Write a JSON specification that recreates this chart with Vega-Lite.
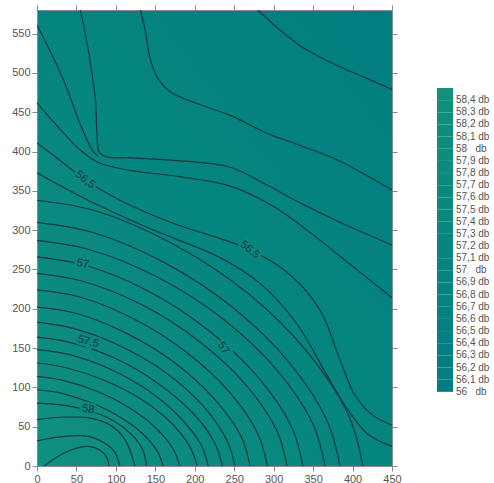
{
"$schema":"https://vega.github.io/schema/vega-lite/v6.json",
"width":355,"height":456,
"autosize":{"type":"none"},
"padding":{"left":37,"top":10,"right":102,"bottom":17},
"background":"white",
"config":{
 "view":{"stroke":null,"fill":{"gradient":"linear","x1":0,"y1":1,"x2":1,"y2":0,"stops":[{"offset":0,"color":"#10907f"},{"offset":0.45,"color":"#06867f"},{"offset":1,"color":"#017d80"}]}},
 "axis":{"title":null,"grid":false,"labelFont":"Liberation Sans","labelFontSize":11,"labelColor":"#555555","domainColor":"#8a8a8a","tickColor":"#8a8a8a","tickSize":5,"labelPadding":2,"labelFlush":false},
 "legend":{"labelFont":"Liberation Sans","labelFontSize":10,"labelColor":"#555555","gradientVerticalMaxLength":316,"gradientLength":316}
},
"datasets":{
"lines":[
{"id":"c","l":56.2,"i":0,"x":280,"y":580},{"id":"c","l":56.2,"i":1,"x":304,"y":558},{"id":"c","l":56.2,"i":2,"x":333,"y":535},{"id":"c","l":56.2,"i":3,"x":375,"y":512},{"id":"c","l":56.2,"i":4,"x":418,"y":493},{"id":"c","l":56.2,"i":5,"x":450,"y":479},
{"id":"b","l":56.3,"i":0,"x":131,"y":580},{"id":"b","l":56.3,"i":1,"x":137,"y":555},{"id":"b","l":56.3,"i":2,"x":143,"y":520},{"id":"b","l":56.3,"i":3,"x":152,"y":495},{"id":"b","l":56.3,"i":4,"x":169,"y":476},{"id":"b","l":56.3,"i":5,"x":203,"y":461},{"id":"b","l":56.3,"i":6,"x":245,"y":446},{"id":"b","l":56.3,"i":7,"x":292,"y":423},{"id":"b","l":56.3,"i":8,"x":333,"y":408},{"id":"b","l":56.3,"i":9,"x":375,"y":392},{"id":"b","l":56.3,"i":10,"x":410,"y":374},{"id":"b","l":56.3,"i":11,"x":450,"y":351},
{"id":"a","l":56.4,"i":0,"x":55,"y":580},{"id":"a","l":56.4,"i":1,"x":65,"y":529},{"id":"a","l":56.4,"i":2,"x":74,"y":466},{"id":"a","l":56.4,"i":3,"x":76,"y":424},{"id":"a","l":56.4,"i":4,"x":79,"y":399},{"id":"a","l":56.4,"i":5,"x":89,"y":393},{"id":"a","l":56.4,"i":6,"x":118,"y":392},{"id":"a","l":56.4,"i":7,"x":169,"y":389},{"id":"a","l":56.4,"i":8,"x":245,"y":380},{"id":"a","l":56.4,"i":9,"x":292,"y":357},{"id":"a","l":56.4,"i":10,"x":333,"y":335},{"id":"a","l":56.4,"i":11,"x":384,"y":310},{"id":"a","l":56.4,"i":12,"x":450,"y":281},
{"id":"aa","l":56.4,"i":0,"x":0,"y":561},{"id":"aa","l":56.4,"i":1,"x":16,"y":529},{"id":"aa","l":56.4,"i":2,"x":36,"y":485},{"id":"aa","l":56.4,"i":3,"x":55,"y":434},{"id":"aa","l":56.4,"i":4,"x":70,"y":402},{"id":"aa","l":56.4,"i":5,"x":77,"y":394},
{"id":"d","l":56.4,"i":0,"x":0,"y":462},{"id":"d","l":56.4,"i":1,"x":26,"y":432},{"id":"d","l":56.4,"i":2,"x":57,"y":400},{"id":"d","l":56.4,"i":3,"x":80,"y":385},{"id":"d","l":56.4,"i":4,"x":118,"y":376},{"id":"d","l":56.4,"i":5,"x":180,"y":368},{"id":"d","l":56.4,"i":6,"x":245,"y":356},{"id":"d","l":56.4,"i":7,"x":300,"y":330},{"id":"d","l":56.4,"i":8,"x":350,"y":294},{"id":"d","l":56.4,"i":9,"x":400,"y":254},{"id":"d","l":56.4,"i":10,"x":450,"y":214},
{"id":"e","l":56.5,"i":0,"x":0,"y":411},{"id":"e","l":56.5,"i":1,"x":29,"y":389},{"id":"e","l":56.5,"i":2,"x":61,"y":364},{"id":"e","l":56.5,"i":3,"x":105,"y":338},{"id":"e","l":56.5,"i":4,"x":169,"y":310},{"id":"e","l":56.5,"i":5,"x":270,"y":275},{"id":"e","l":56.5,"i":6,"x":321,"y":243},{"id":"e","l":56.5,"i":7,"x":359,"y":198},{"id":"e","l":56.5,"i":8,"x":384,"y":135},{"id":"e","l":56.5,"i":9,"x":403,"y":90},{"id":"e","l":56.5,"i":10,"x":425,"y":65},{"id":"e","l":56.5,"i":11,"x":450,"y":52},
{"id":"f","l":56.6,"i":0,"x":0,"y":373},{"id":"f","l":56.6,"i":1,"x":61,"y":340},{"id":"f","l":56.6,"i":2,"x":143,"y":302},{"id":"f","l":56.6,"i":3,"x":232,"y":265},{"id":"f","l":56.6,"i":4,"x":283,"y":232},{"id":"f","l":56.6,"i":5,"x":330,"y":180},{"id":"f","l":56.6,"i":6,"x":365,"y":120},{"id":"f","l":56.6,"i":7,"x":395,"y":70},{"id":"f","l":56.6,"i":8,"x":420,"y":40},{"id":"f","l":56.6,"i":9,"x":450,"y":25},
{"id":"g","l":56.7,"i":0,"x":0,"y":338},{"id":"g","l":56.7,"i":1,"x":76,"y":324},{"id":"g","l":56.7,"i":2,"x":173,"y":282},{"id":"g","l":56.7,"i":3,"x":268,"y":219},{"id":"g","l":56.7,"i":4,"x":345,"y":142},{"id":"g","l":56.7,"i":5,"x":396,"y":62},{"id":"g","l":56.7,"i":6,"x":413,"y":0},
{"id":"h","l":56.8,"i":0,"x":0,"y":310},{"id":"h","l":56.8,"i":1,"x":71,"y":297},{"id":"h","l":56.8,"i":2,"x":161,"y":259},{"id":"h","l":56.8,"i":3,"x":249,"y":201},{"id":"h","l":56.8,"i":4,"x":321,"y":130},{"id":"h","l":56.8,"i":5,"x":368,"y":57},{"id":"h","l":56.8,"i":6,"x":384,"y":0},
{"id":"j","l":56.9,"i":0,"x":0,"y":287},{"id":"j","l":56.9,"i":1,"x":67,"y":275},{"id":"j","l":56.9,"i":2,"x":153,"y":240},{"id":"j","l":56.9,"i":3,"x":237,"y":186},{"id":"j","l":56.9,"i":4,"x":305,"y":121},{"id":"j","l":56.9,"i":5,"x":350,"y":53},{"id":"j","l":56.9,"i":6,"x":365,"y":0},
{"id":"k","l":57.0,"i":0,"x":0,"y":266},{"id":"k","l":57.0,"i":1,"x":62,"y":255},{"id":"k","l":57.0,"i":2,"x":142,"y":222},{"id":"k","l":57.0,"i":3,"x":218,"y":172},{"id":"k","l":57.0,"i":4,"x":281,"y":112},{"id":"k","l":57.0,"i":5,"x":323,"y":49},{"id":"k","l":57.0,"i":6,"x":337,"y":0},
{"id":"m","l":57.1,"i":0,"x":0,"y":245},{"id":"m","l":57.1,"i":1,"x":58,"y":235},{"id":"m","l":57.1,"i":2,"x":133,"y":205},{"id":"m","l":57.1,"i":3,"x":205,"y":159},{"id":"m","l":57.1,"i":4,"x":265,"y":103},{"id":"m","l":57.1,"i":5,"x":304,"y":45},{"id":"m","l":57.1,"i":6,"x":317,"y":0},
{"id":"n","l":57.2,"i":0,"x":0,"y":224},{"id":"n","l":57.2,"i":1,"x":54,"y":215},{"id":"n","l":57.2,"i":2,"x":123,"y":187},{"id":"n","l":57.2,"i":3,"x":189,"y":145},{"id":"n","l":57.2,"i":4,"x":244,"y":94},{"id":"n","l":57.2,"i":5,"x":280,"y":41},{"id":"n","l":57.2,"i":6,"x":292,"y":0},
{"id":"o","l":57.3,"i":0,"x":0,"y":202},{"id":"o","l":57.3,"i":1,"x":50,"y":194},{"id":"o","l":57.3,"i":2,"x":113,"y":169},{"id":"o","l":57.3,"i":3,"x":175,"y":131},{"id":"o","l":57.3,"i":4,"x":225,"y":85},{"id":"o","l":57.3,"i":5,"x":259,"y":37},{"id":"o","l":57.3,"i":6,"x":270,"y":0},
{"id":"p","l":57.4,"i":0,"x":0,"y":183},{"id":"p","l":57.4,"i":1,"x":46,"y":175},{"id":"p","l":57.4,"i":2,"x":105,"y":153},{"id":"p","l":57.4,"i":3,"x":163,"y":119},{"id":"p","l":57.4,"i":4,"x":210,"y":77},{"id":"p","l":57.4,"i":5,"x":240,"y":34},{"id":"p","l":57.4,"i":6,"x":251,"y":0},
{"id":"q","l":57.5,"i":0,"x":0,"y":164},{"id":"q","l":57.5,"i":1,"x":43,"y":157},{"id":"q","l":57.5,"i":2,"x":99,"y":137},{"id":"q","l":57.5,"i":3,"x":152,"y":106},{"id":"q","l":57.5,"i":4,"x":196,"y":69},{"id":"q","l":57.5,"i":5,"x":225,"y":30},{"id":"q","l":57.5,"i":6,"x":235,"y":0},
{"id":"r","l":57.6,"i":0,"x":0,"y":148},{"id":"r","l":57.6,"i":1,"x":40,"y":142},{"id":"r","l":57.6,"i":2,"x":91,"y":124},{"id":"r","l":57.6,"i":3,"x":141,"y":96},{"id":"r","l":57.6,"i":4,"x":181,"y":62},{"id":"r","l":57.6,"i":5,"x":208,"y":27},{"id":"r","l":57.6,"i":6,"x":217,"y":0},
{"id":"s","l":57.7,"i":0,"x":0,"y":131},{"id":"s","l":57.7,"i":1,"x":37,"y":125},{"id":"s","l":57.7,"i":2,"x":85,"y":109},{"id":"s","l":57.7,"i":3,"x":132,"y":85},{"id":"s","l":57.7,"i":4,"x":170,"y":55},{"id":"s","l":57.7,"i":5,"x":194,"y":24},{"id":"s","l":57.7,"i":6,"x":203,"y":0},
{"id":"t","l":57.8,"i":0,"x":0,"y":114},{"id":"t","l":57.8,"i":1,"x":33,"y":109},{"id":"t","l":57.8,"i":2,"x":76,"y":95},{"id":"t","l":57.8,"i":3,"x":117,"y":74},{"id":"t","l":57.8,"i":4,"x":151,"y":48},{"id":"t","l":57.8,"i":5,"x":173,"y":21},{"id":"t","l":57.8,"i":6,"x":181,"y":0},
{"id":"u","l":57.9,"i":0,"x":0,"y":97},{"id":"u","l":57.9,"i":1,"x":29,"y":93},{"id":"u","l":57.9,"i":2,"x":67,"y":81},{"id":"u","l":57.9,"i":3,"x":104,"y":63},{"id":"u","l":57.9,"i":4,"x":134,"y":41},{"id":"u","l":57.9,"i":5,"x":153,"y":18},{"id":"u","l":57.9,"i":6,"x":160,"y":0},
{"id":"v","l":58.0,"i":0,"x":0,"y":80},{"id":"v","l":58.0,"i":1,"x":36,"y":77},{"id":"v","l":58.0,"i":2,"x":70,"y":69},{"id":"v","l":58.0,"i":3,"x":98,"y":57},{"id":"v","l":58.0,"i":4,"x":120,"y":40},{"id":"v","l":58.0,"i":5,"x":134,"y":21},{"id":"v","l":58.0,"i":6,"x":139,"y":0},
{"id":"w","l":58.1,"i":0,"x":0,"y":59},{"id":"w","l":58.1,"i":1,"x":29,"y":62},{"id":"w","l":58.1,"i":2,"x":67,"y":61},{"id":"w","l":58.1,"i":3,"x":93,"y":52},{"id":"w","l":58.1,"i":4,"x":112,"y":33},{"id":"w","l":58.1,"i":5,"x":124,"y":0},
{"id":"y","l":58.2,"i":0,"x":0,"y":32},{"id":"y","l":58.2,"i":1,"x":29,"y":37},{"id":"y","l":58.2,"i":2,"x":63,"y":38},{"id":"y","l":58.2,"i":3,"x":86,"y":29},{"id":"y","l":58.2,"i":4,"x":99,"y":17},{"id":"y","l":58.2,"i":5,"x":105,"y":0},
{"id":"z","l":58.3,"i":0,"x":9,"y":0},{"id":"z","l":58.3,"i":1,"x":23,"y":10},{"id":"z","l":58.3,"i":2,"x":42,"y":20},{"id":"z","l":58.3,"i":3,"x":63,"y":25},{"id":"z","l":58.3,"i":4,"x":80,"y":20},{"id":"z","l":58.3,"i":5,"x":89,"y":10},{"id":"z","l":58.3,"i":6,"x":91,"y":0}
],
"labels":[
{"t":"56,5","x":61,"y":364,"a":38},
{"t":"56,5","x":270,"y":275,"a":40},
{"t":"57","x":58,"y":257,"a":10},
{"t":"57","x":236,"y":150,"a":58},
{"t":"57,5","x":65,"y":158,"a":15},
{"t":"58","x":65,"y":72,"a":10}
]
},
"layer":[
{"data":{"name":"lines"},
 "mark":{"type":"line","interpolate":"catmull-rom","stroke":"#123a3d","strokeWidth":1.2,"clip":true},
 "encoding":{
  "x":{"field":"x","type":"quantitative","scale":{"domain":[0,450],"nice":false,"zero":false},"axis":{"values":[0,50,100,150,200,250,300,350,400,450]}},
  "y":{"field":"y","type":"quantitative","scale":{"domain":[0,580],"nice":false,"zero":false},"axis":{"values":[0,50,100,150,200,250,300,350,400,450,500,550]}},
  "detail":{"field":"id"},
  "order":{"field":"i","type":"quantitative"}
 }},
{"data":{"name":"lines"},
 "mark":{"type":"point","size":0,"filled":true,"strokeWidth":0},
 "encoding":{
  "x":{"field":"x","type":"quantitative","axis":{"orient":"top","labels":false,"values":[0,50,100,150,200,250,300,350,400,450]}},
  "y":{"field":"y","type":"quantitative","axis":{"orient":"right","labels":false,"values":[0,50,100,150,200,250,300,350,400,450,500,550]}},
  "fill":{"field":"l","type":"quantitative",
   "scale":{"type":"threshold","domain":[56,56.1,56.2,56.3,56.4,56.5,56.6,56.7,56.8,56.9,57,57.1,57.2,57.3,57.4,57.5,57.6,57.7,57.8,57.9,58,58.1,58.2,58.3,58.4],"range":["transparent","#017c84","#027d84","#027e83","#037e83","#047f82","#048082","#058182","#068281","#068381","#078380","#088480","#08857f","#09867f","#0a877f","#0a887e","#0b887e","#0c897d","#0c8a7d","#0d8b7c","#0e8c7c","#0e8d7c","#0f8d7b","#108e7b","#108f7a","#11907a"]},
   "legend":{"orient":"none","legendX":400,"legendY":78,"title":null,"direction":"vertical","gradientLength":316,"gradientThickness":18,"gradientStrokeWidth":0,"labelOverlap":false,"labelOffset":3,
    "encode":{"gradient":{"update":{"stroke":{"signal":"datum.value > 55.9 ? '#1d3b3e' : 'transparent'"},"strokeWidth":{"value":1}}}},
    "labelExpr":"(datum.value < 55.95 || datum.value > 58.45) ? '' : (abs(datum.value - round(datum.value)) < 0.01 ? format(datum.value, 'd') + '\u00a0\u00a0 db' : replace(format(datum.value, '.1f'), '.', ',') + ' db')"}}
 }},
{"data":{"name":"labels"},
 "mark":{"type":"text","font":"Liberation Sans","fontSize":11,"stroke":"#0a877f","strokeWidth":5,"fill":"#0a877f"},
 "encoding":{"x":{"field":"x","type":"quantitative","axis":null},"y":{"field":"y","type":"quantitative","axis":null},"text":{"field":"t"},"angle":{"field":"a","type":"quantitative","scale":null}}},
{"data":{"name":"labels"},
 "mark":{"type":"text","font":"Liberation Sans","fontSize":11,"fill":"#14373a"},
 "encoding":{"x":{"field":"x","type":"quantitative","axis":null},"y":{"field":"y","type":"quantitative","axis":null},"text":{"field":"t"},"angle":{"field":"a","type":"quantitative","scale":null}}}
],
"resolve":{"axis":{"x":"independent","y":"independent"}}
}
